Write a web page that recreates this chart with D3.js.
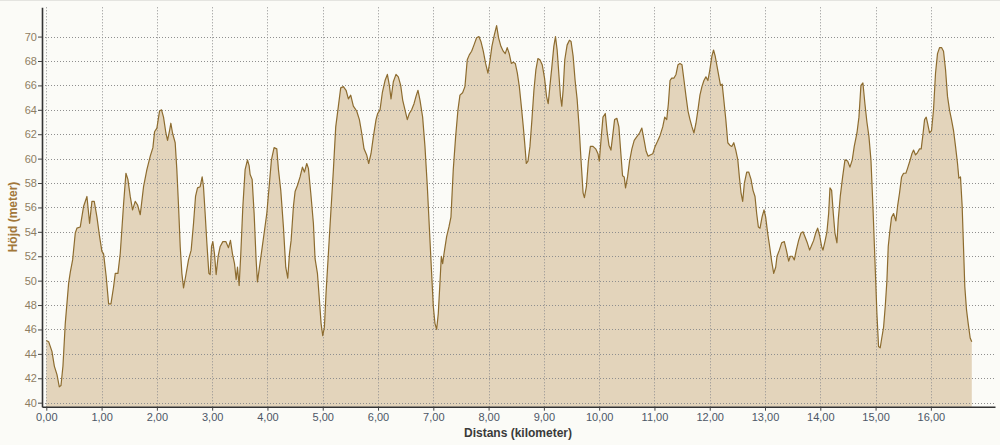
<!DOCTYPE html>
<html><head><meta charset="utf-8">
<script src="https://cdn.jsdelivr.net/npm/d3@7"></script>
<style>
html,body{margin:0;padding:0;background:#fbfbf7;}
svg{display:block;}
</style></head>
<body>
<svg id="chart" width="1000" height="445"></svg>
<script>
const distance = [
0.000,0.042,0.102,0.145,0.193,0.235,0.265,0.301,0.343,0.404,0.434,0.476,0.524,0.554,0.614,0.675,0.735,0.783,0.825,0.867,0.916,0.964,
1.006,1.036,1.084,1.127,1.169,1.217,1.247,1.295,1.337,1.398,1.440,1.476,1.518,1.560,1.608,1.651,1.699,1.759,1.819,1.880,1.928,1.958,
2.000,2.048,2.084,2.120,2.163,2.193,2.229,2.253,2.283,2.331,2.361,2.392,2.422,2.452,2.482,2.518,2.572,2.620,2.663,2.699,2.735,2.783,2.819,2.843,2.873,2.904,2.940,2.964,2.988,
3.012,3.042,3.072,3.108,3.145,3.193,3.247,3.295,3.331,3.367,3.404,3.434,3.458,3.488,3.518,3.554,3.596,3.639,3.669,3.687,3.723,3.759,3.795,3.819,3.855,3.898,3.940,3.988,
4.036,4.072,4.120,4.169,4.199,4.241,4.289,4.331,4.367,4.398,4.428,4.470,4.500,4.542,4.590,4.633,4.669,4.711,4.741,4.783,4.831,4.861,4.904,4.940,4.970,
5.000,5.030,5.060,5.102,5.145,5.193,5.235,5.283,5.325,5.373,5.422,5.464,5.506,5.554,5.614,5.663,5.705,5.747,5.795,5.831,5.873,5.916,5.964,5.994,
6.036,6.078,6.127,6.169,6.205,6.235,6.277,6.325,6.367,6.410,6.446,6.488,6.530,6.566,6.608,6.651,6.687,6.723,6.759,6.807,6.849,6.892,6.928,6.964,
7.000,7.030,7.060,7.090,7.120,7.145,7.169,7.193,7.241,7.283,7.319,7.361,7.404,7.446,7.482,7.530,7.572,7.614,7.651,7.693,7.735,7.783,7.825,7.861,7.904,7.946,7.988,
8.024,8.060,8.102,8.145,8.181,8.223,8.265,8.301,8.337,8.373,8.411,8.447,8.483,8.520,8.556,8.592,8.628,8.658,8.682,8.712,8.748,8.784,8.820,8.856,8.892,8.928,8.970,
9.012,9.048,9.078,9.108,9.144,9.180,9.210,9.240,9.270,9.300,9.324,9.348,9.378,9.420,9.462,9.492,9.529,9.565,9.601,9.637,9.673,9.709,9.733,9.769,9.805,9.841,9.889,9.937,9.979,
10.003,10.033,10.069,10.111,10.141,10.177,10.213,10.243,10.279,10.321,10.357,10.393,10.423,10.453,10.477,10.514,10.550,10.592,10.634,10.682,10.730,10.772,10.814,10.850,10.886,10.922,10.970,
11.012,11.054,11.102,11.150,11.186,11.222,11.252,11.282,11.312,11.354,11.390,11.426,11.462,11.498,11.535,11.571,11.607,11.643,11.679,11.715,11.751,11.787,11.823,11.859,11.895,11.931,11.967,
12.003,12.039,12.069,12.099,12.135,12.171,12.195,12.225,12.255,12.291,12.327,12.363,12.399,12.435,12.471,12.508,12.536,12.566,12.596,12.627,12.669,12.705,12.747,12.783,12.819,12.849,12.880,12.910,12.946,12.982,
13.012,13.048,13.084,13.120,13.157,13.193,13.217,13.259,13.301,13.349,13.386,13.428,13.458,13.494,13.530,13.566,13.608,13.651,13.687,13.723,13.765,13.807,13.843,13.880,13.916,13.952,13.988,
14.024,14.048,14.084,14.120,14.151,14.175,14.205,14.235,14.265,14.301,14.325,14.361,14.404,14.446,14.494,14.536,14.578,14.614,14.663,14.699,14.735,14.771,14.807,14.843,14.880,14.916,14.952,14.988,
15.024,15.054,15.084,15.108,15.145,15.175,15.205,15.229,15.259,15.289,15.325,15.367,15.398,15.434,15.470,15.506,15.548,15.578,15.620,15.657,15.687,15.723,15.759,15.795,15.825,15.855,15.886,15.916,15.940,15.976,
16.012,16.048,16.084,16.120,16.157,16.193,16.229,16.265,16.301,16.337,16.373,16.410,16.446,16.482,16.506,16.536,16.566,16.590,16.614,16.645,16.675,16.711,16.740
];
const elevation = [
45.1,45.0,44.2,43.0,42.3,41.3,41.4,43.0,46.5,49.8,50.7,51.7,53.9,54.3,54.4,56.1,56.9,54.7,56.5,56.5,55.2,53.6,
52.4,52.2,50.3,48.1,48.1,49.5,50.6,50.6,52.2,56.3,58.8,58.3,56.9,55.8,56.5,56.2,55.4,57.7,59.1,60.2,60.9,62.2,
62.5,63.9,64.0,63.4,62.1,61.5,62.3,62.9,62.1,61.3,59.1,56.1,52.8,50.6,49.4,50.3,51.7,52.5,54.7,56.9,57.6,57.7,58.5,57.7,55.5,53.1,50.6,50.5,52.8,
53.2,52.2,50.5,52.0,52.8,53.2,53.2,52.7,53.3,52.2,51.4,50.1,51.1,49.6,52.2,56.0,59.1,59.9,59.4,58.7,58.3,55.5,51.7,49.9,51.1,52.5,53.9,55.5,
58.0,59.9,60.9,60.8,59.1,57.4,54.4,51.1,50.2,52.2,53.3,56.1,57.3,57.8,58.5,59.3,58.9,59.6,59.2,57.2,54.7,51.8,50.6,48.4,46.5,
45.5,46.2,49.0,52.2,55.5,59.1,62.6,64.3,65.8,65.9,65.6,64.9,65.2,64.3,63.9,63.2,62.1,60.8,60.3,59.6,60.4,61.8,63.2,63.7,
64.0,65.4,66.4,66.9,66.0,64.9,66.3,66.9,66.7,66.0,64.8,64.0,63.2,63.7,64.0,64.5,65.1,65.6,64.8,63.4,61.0,57.7,54.4,51.1,
47.9,46.5,46.0,47.3,49.8,52.0,51.4,52.2,53.6,54.4,55.2,59.1,61.8,64.0,65.2,65.4,65.9,68.1,68.5,68.8,69.3,69.9,70.0,69.6,68.8,67.8,67.0,
68.0,69.2,70.1,70.9,69.9,69.2,68.8,68.6,69.1,68.6,67.8,67.9,67.8,67.0,65.9,64.3,62.6,61.0,59.6,59.8,61.0,63.2,65.6,67.3,68.2,68.1,67.7,
66.6,65.1,64.5,65.9,67.5,69.2,70.0,68.9,67.0,65.1,64.3,65.6,68.1,69.3,69.7,69.6,68.4,66.4,64.9,62.6,59.8,57.2,56.8,57.7,59.8,61.0,61.0,60.8,60.4,
59.8,61.5,63.4,63.7,62.3,61.1,60.7,61.8,63.2,63.3,62.6,60.4,58.6,58.5,57.6,58.5,59.8,60.8,61.5,61.8,62.1,62.5,61.5,60.6,60.2,60.3,60.4,
61.0,61.4,61.9,62.6,63.4,63.2,64.5,66.4,66.6,66.6,66.9,67.7,67.8,67.7,66.4,65.1,63.9,63.2,62.6,62.1,62.9,64.0,65.2,65.9,66.4,66.7,66.4,
67.3,68.4,68.9,68.4,67.5,66.6,66.0,66.1,64.8,63.2,61.3,61.1,61.0,61.3,60.7,59.9,58.5,57.2,56.5,58.0,58.9,58.9,58.3,57.4,56.9,55.5,54.4,54.3,55.2,55.8,
55.2,53.9,52.8,51.6,50.6,51.1,52.0,52.5,53.1,53.2,52.5,51.6,52.0,52.0,51.7,52.5,53.3,53.9,54.0,53.6,53.1,52.5,52.9,53.3,53.9,54.3,53.7,
52.8,52.5,53.2,54.0,55.5,57.6,57.4,55.5,53.9,53.1,55.0,56.9,58.5,59.9,59.8,59.3,59.9,61.0,62.1,63.4,66.0,66.2,64.5,63.0,61.8,59.9,56.1,51.7,
47.3,44.6,44.5,45.2,46.2,47.9,50.0,52.8,54.1,55.2,55.5,54.9,56.1,57.2,58.5,58.8,58.8,59.2,59.8,60.4,60.7,60.3,60.5,60.8,60.8,61.9,63.2,63.4,62.9,62.1,
62.3,64.0,67.0,68.6,69.1,69.1,68.8,67.3,65.1,64.0,63.2,62.3,61.0,59.6,58.4,58.5,56.1,52.8,49.5,47.6,46.5,45.3,45.0
];
const xTickValues = [0,1,2,3,4,5,6,7,8,9,10,11,12,13,14,15,16];
const yTickValues = [40,42,44,46,48,50,52,54,56,58,60,62,64,66,68,70];
const xTitle = "Distans (kilometer)";
const yTitle = "Höjd (meter)";

const data = distance.map((d,i)=>({d:d, e:elevation[i]}));
const svg = d3.select("#chart");
const pLeft = 42, pRight = 995, pTop = 7.3, pBottom = 406.7;

const x = d3.scaleLinear().domain([-0.078, 17.16]).range([pLeft, pRight]);
const y = d3.scaleLinear().domain([39.67, 72.4]).range([pBottom, pTop]);

svg.append("rect").attr("width",1000).attr("height",445).attr("fill","#fbfbf7");
svg.append("line").attr("x1",0).attr("x2",1000).attr("y1",0.5).attr("y2",0.5).attr("stroke","#e4e4e0");

// area
svg.append("path").datum(data)
  .attr("fill","#e3d4bb")
  .attr("d", d3.area().x(p=>x(p.d)).y0(pBottom).y1(p=>y(p.e)));

// grid
const grid = svg.append("g").attr("stroke","#8f8f8f").attr("stroke-width",1).attr("stroke-dasharray","1,2");
grid.selectAll("line.v").data(xTickValues).join("line")
  .attr("x1",d=>Math.round(x(d))+0.5).attr("x2",d=>Math.round(x(d))+0.5)
  .attr("y1",pTop).attr("y2",pBottom);
grid.selectAll("line.h").data(yTickValues).join("line")
  .attr("x1",pLeft).attr("x2",pRight)
  .attr("y1",d=>Math.round(y(d))+0.5).attr("y2",d=>Math.round(y(d))+0.5);

// line
svg.append("path").datum(data)
  .attr("fill","none").attr("stroke","#8d6c2f").attr("stroke-width",1.2)
  .attr("stroke-linejoin","round")
  .attr("d", d3.line().x(p=>x(p.d)).y(p=>y(p.e)));

const fmt = v => d3.format(".2f")(v).replace(".", ",");

const gx = svg.append("g").attr("transform",`translate(0,${pBottom})`)
  .call(d3.axisBottom(x).tickValues(xTickValues).tickFormat(fmt).tickSize(4).tickSizeOuter(0));
gx.select(".domain").attr("stroke","#333").attr("stroke-width",1.6);
gx.selectAll(".tick line").attr("stroke","#444");
gx.selectAll(".tick text").attr("fill","#4c5666").attr("font-family","'Liberation Sans', Arial, sans-serif")
  .attr("font-size","11px");

const gy = svg.append("g").attr("transform",`translate(${pLeft},0)`)
  .call(d3.axisLeft(y).tickValues(yTickValues).tickFormat(d3.format("d")).tickSize(4).tickSizeOuter(0));
gy.select(".domain").attr("stroke","#333").attr("stroke-width",1.6);
gy.selectAll(".tick line").attr("stroke","#444");
gy.selectAll(".tick text").attr("fill","#8e7d62").attr("font-family","'Liberation Sans', Arial, sans-serif")
  .attr("font-size","11px").attr("x",-5);

svg.append("text").attr("x",518).attr("y",437).attr("text-anchor","middle")
  .attr("font-family","'Liberation Sans', Arial, sans-serif").attr("font-size","12px").attr("font-weight","bold")
  .attr("fill","#3a3a3a").text(xTitle);
svg.append("text").attr("transform","translate(17,217) rotate(-90)").attr("text-anchor","middle")
  .attr("font-family","'Liberation Sans', Arial, sans-serif").attr("font-size","12px").attr("font-weight","bold")
  .attr("fill","#a2773a").text(yTitle);
</script>
</body></html>
